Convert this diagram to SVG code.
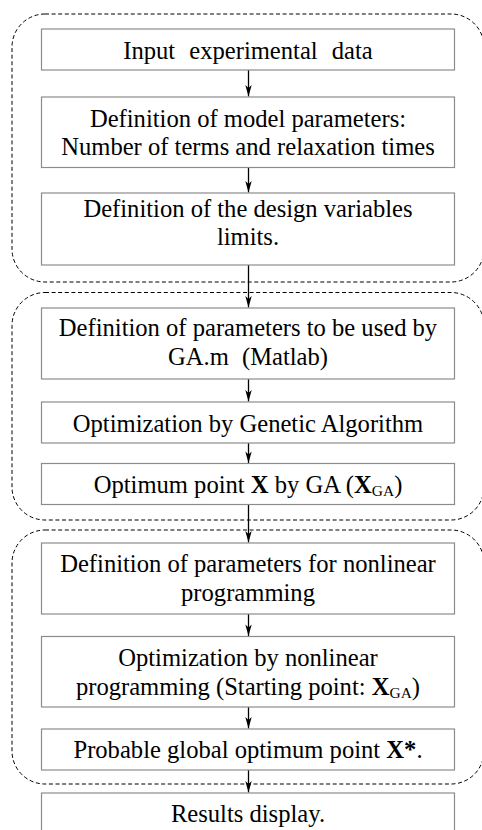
<svg xmlns="http://www.w3.org/2000/svg" width="482" height="830" viewBox="0 0 482 830">
  <style>
    .box { fill: #ffffff; stroke: #8c8c8c; stroke-width: 1.2; }
    .grp { fill: none; stroke: #000000; stroke-width: 1; stroke-dasharray: 4 2.6; }
    .lbl { font-family: "Liberation Serif", "Times New Roman", serif; font-size: 24.6px; fill: #000000; text-anchor: middle; }
    .b { font-weight: bold; }
    .sub { font-size: 15.5px; }
    .conn { stroke: #000000; stroke-width: 1.3; fill: none; marker-end: url(#arr); }
  </style>
  <defs>
    <marker id="arr" viewBox="-12 -4 13 8" refX="0" refY="0" markerWidth="13" markerHeight="8" markerUnits="userSpaceOnUse" orient="auto">
      <path d="M0,0 L-11.5,-3.2 L-8.5,0 L-11.5,3.2 Z" fill="#000000"/>
    </marker>
  </defs>

  <rect width="482" height="830" fill="#ffffff"/>

  <!-- dashed stage outlines -->
  <g id="stages">
    <rect id="stage-setup" class="grp" x="12" y="14" width="472" height="268" rx="33" ry="33"/>
    <rect id="stage-ga" class="grp" x="12" y="292.5" width="472" height="227.5" rx="33" ry="33"/>
    <rect id="stage-nlp" class="grp" x="12" y="530" width="472" height="254" rx="33" ry="33"/>
  </g>

  <!-- connectors -->
  <g id="connectors">
    <line class="conn" x1="248.5" y1="70" x2="248.5" y2="96.5"/>
    <line class="conn" x1="248.5" y1="167.5" x2="248.5" y2="192.5"/>
    <line class="conn" x1="248.5" y1="265" x2="248.5" y2="307.5"/>
    <line class="conn" x1="248.5" y1="379" x2="248.5" y2="401.5"/>
    <line class="conn" x1="248.5" y1="443" x2="248.5" y2="463"/>
    <line class="conn" x1="248.5" y1="504.5" x2="248.5" y2="542.5"/>
    <line class="conn" x1="248.5" y1="614" x2="248.5" y2="636"/>
    <line class="conn" x1="248.5" y1="707" x2="248.5" y2="728.5"/>
    <line class="conn" x1="248.5" y1="770" x2="248.5" y2="792.5"/>
  </g>

  <g id="input-data">
    <rect class="box" x="41.5" y="29" width="413" height="41"/>
    <text class="lbl" x="248" y="58.5" word-spacing="8">Input experimental data</text>
  </g>

  <g id="model-parameters">
    <rect class="box" x="41.5" y="97" width="413" height="70.5"/>
    <text class="lbl" x="248" y="126.7">Definition of model parameters:</text>
    <text class="lbl" x="248" y="155">Number of terms and relaxation times</text>
  </g>

  <g id="variable-limits">
    <rect class="box" x="41.5" y="193" width="413" height="72"/>
    <text class="lbl" x="248" y="216.5">Definition of the design variables</text>
    <text class="lbl" x="248" y="245">limits.</text>
  </g>

  <g id="ga-parameters">
    <rect class="box" x="41.5" y="308" width="413" height="71"/>
    <text class="lbl" x="248" y="336">Definition of parameters to be used by</text>
    <text class="lbl" x="248" y="365" word-spacing="7">GA.m (Matlab)</text>
  </g>

  <g id="ga-optimization">
    <rect class="box" x="41.5" y="402" width="413" height="41"/>
    <text class="lbl" x="248" y="432">Optimization by Genetic Algorithm</text>
  </g>

  <g id="ga-optimum">
    <rect class="box" x="41.5" y="463.5" width="413" height="41"/>
    <text class="lbl" x="248" y="493">Optimum point <tspan class="b">X</tspan> by GA (<tspan class="b">X</tspan><tspan class="sub" dy="3">GA</tspan><tspan dy="-3">)</tspan></text>
  </g>

  <g id="nlp-parameters">
    <rect class="box" x="41.5" y="543" width="413" height="71"/>
    <text class="lbl" x="248" y="572">Definition of parameters for nonlinear</text>
    <text class="lbl" x="248" y="601">programming</text>
  </g>

  <g id="nlp-optimization">
    <rect class="box" x="41.5" y="636.5" width="413" height="70.5"/>
    <text class="lbl" x="248" y="665.5">Optimization by nonlinear</text>
    <text class="lbl" x="248" y="694.5">programming (Starting point: <tspan class="b">X</tspan><tspan class="sub" dy="3">GA</tspan><tspan dy="-3">)</tspan></text>
  </g>

  <g id="global-optimum">
    <rect class="box" x="41.5" y="729" width="413" height="41"/>
    <text class="lbl" x="248" y="758">Probable global optimum point <tspan class="b">X*</tspan>.</text>
  </g>

  <g id="results">
    <rect class="box" x="41.5" y="793" width="413" height="60"/>
    <text class="lbl" x="248" y="821.5">Results display.</text>
  </g>
</svg>
